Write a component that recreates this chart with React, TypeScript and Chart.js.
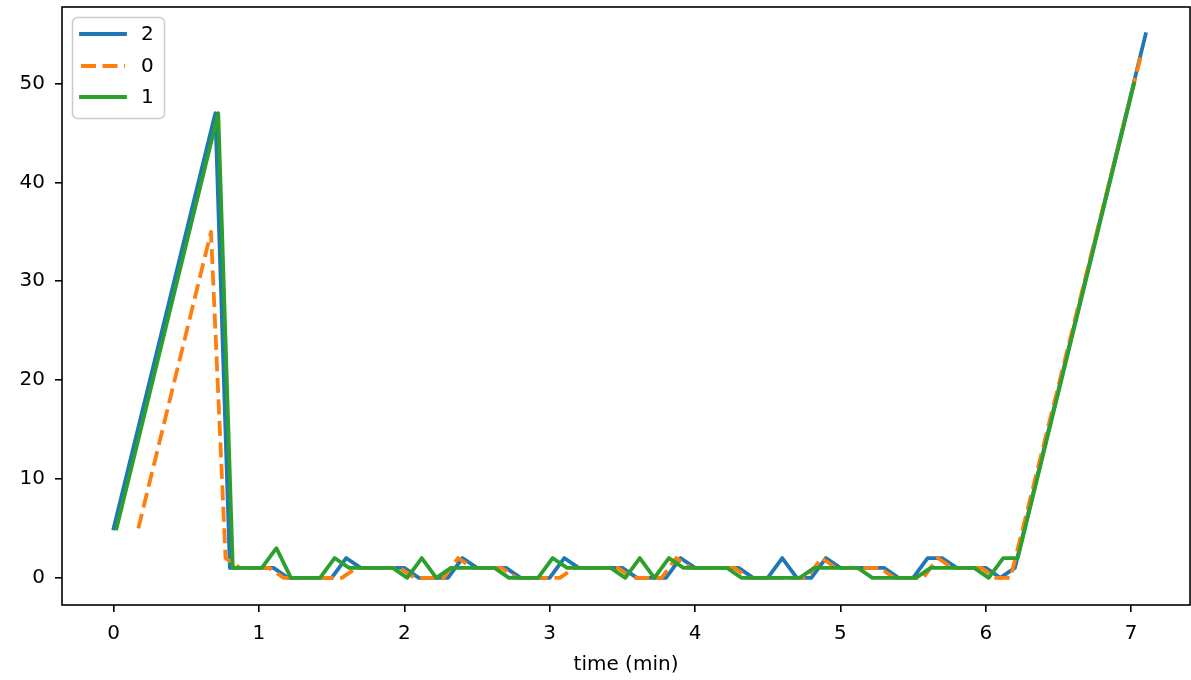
import React, { useEffect, useRef } from "react";
import { Chart, registerables } from "chart.js";

Chart.register(...registerables);

const seriesLabels = ["2", "0", "1"];
const seriesColors = ["#1f77b4", "#ff7f0e", "#2ca02c"];
const seriesDash: number[][] = [[], [15, 6.5], []];

const xTicks = [0, 1, 2, 3, 4, 5, 6, 7];
const yTicks = [0, 10, 20, 30, 40, 50];
const xLabel = "time (min)";

// series "2" (blue)
const timeS2 = [
  0, 0.7, 0.8, 0.9, 1.0, 1.1, 1.2, 1.3, 1.4, 1.5, 1.6, 1.7, 1.8, 1.9, 2.0, 2.1, 2.2, 2.3, 2.4, 2.5,
  2.6, 2.7, 2.8, 2.9, 3.0, 3.1, 3.2, 3.3, 3.4, 3.5, 3.6, 3.7, 3.8, 3.9, 4.0, 4.1, 4.2, 4.3, 4.4, 4.5,
  4.6, 4.7, 4.8, 4.9, 5.0, 5.1, 5.2, 5.3, 5.4, 5.5, 5.6, 5.7, 5.8, 5.9, 6.0, 6.1, 6.2, 7.1,
];
const valS2 = [
  5, 47, 1, 1, 1, 1, 0, 0, 0, 0, 2, 1, 1, 1, 1, 0, 0, 0, 2, 1,
  1, 1, 0, 0, 0, 2, 1, 1, 1, 1, 0, 0, 0, 2, 1, 1, 1, 1, 0, 0,
  2, 0, 0, 2, 1, 1, 1, 1, 0, 0, 2, 2, 1, 1, 1, 0, 1, 55,
];

// series "0" (orange, dashed)
const timeS0 = [
  0.17, 0.67, 0.77, 0.87, 0.97, 1.07, 1.17, 1.27, 1.37, 1.47, 1.57, 1.67, 1.77, 1.87, 1.97, 2.07, 2.17, 2.27, 2.37, 2.47,
  2.57, 2.67, 2.77, 2.87, 2.97, 3.07, 3.17, 3.27, 3.37, 3.47, 3.57, 3.67, 3.77, 3.87, 3.97, 4.07, 4.17, 4.27, 4.37, 4.47,
  4.57, 4.67, 4.77, 4.87, 4.97, 5.07, 5.17, 5.27, 5.37, 5.47, 5.57, 5.67, 5.77, 5.87, 5.97, 6.07, 6.17, 7.07,
];
const valS0 = [
  5, 35, 2, 1, 1, 1, 0, 0, 0, 0, 0, 1, 1, 1, 1, 0, 0, 0, 2, 1,
  1, 1, 0, 0, 0, 0, 1, 1, 1, 1, 0, 0, 0, 2, 1, 1, 1, 1, 0, 0,
  0, 0, 0, 2, 1, 1, 1, 1, 0, 0, 0, 2, 1, 1, 1, 0, 0, 53,
];

// series "1" (green)
const timeS1 = [
  0.02, 0.72, 0.82, 0.92, 1.02, 1.12, 1.22, 1.32, 1.42, 1.52, 1.62, 1.72, 1.82, 1.92, 2.02, 2.12, 2.22, 2.32, 2.42, 2.52,
  2.62, 2.72, 2.82, 2.92, 3.02, 3.12, 3.22, 3.32, 3.42, 3.52, 3.62, 3.72, 3.82, 3.92, 4.02, 4.12, 4.22, 4.32, 4.42, 4.52,
  4.62, 4.72, 4.82, 4.92, 5.02, 5.12, 5.22, 5.32, 5.42, 5.52, 5.62, 5.72, 5.82, 5.92, 6.02, 6.12, 6.22, 7.02,
];
const valS1 = [
  5, 47, 1, 1, 1, 3, 0, 0, 0, 2, 1, 1, 1, 1, 0, 2, 0, 1, 1, 1,
  1, 0, 0, 0, 2, 1, 1, 1, 1, 0, 2, 0, 2, 1, 1, 1, 1, 0, 0, 0,
  0, 0, 1, 1, 1, 1, 0, 0, 0, 0, 1, 1, 1, 1, 0, 2, 2, 50,
];

const seriesTimes = [timeS2, timeS0, timeS1];
const seriesValues = [valS2, valS0, valS1];

const FONT = "'DejaVu Sans', sans-serif";

const framePlugin = {
  id: "frame",
  afterDraw(chart: any) {
    const { ctx, chartArea } = chart;
    ctx.save();
    ctx.strokeStyle = "#000";
    ctx.lineWidth = 1.6;
    ctx.strokeRect(chartArea.left, chartArea.top, chartArea.right - chartArea.left, chartArea.bottom - chartArea.top);

    // legend (matplotlib style)
    const x0 = 72.5, y0 = 17.5, w = 92, h = 101;
    ctx.beginPath();
    (ctx as any).roundRect(x0, y0, w, h, 5);
    ctx.fillStyle = "rgba(255,255,255,0.8)";
    ctx.fill();
    ctx.strokeStyle = "#cccccc";
    ctx.lineWidth = 1.6;
    ctx.stroke();
    const rows = [34, 66, 97];
    chart.data.datasets.forEach((ds: any, i: number) => {
      ctx.beginPath();
      ctx.setLineDash(ds.borderDash || []);
      ctx.lineCap = ds.borderDash && ds.borderDash.length ? "butt" : "square";
      ctx.strokeStyle = ds.borderColor;
      ctx.lineWidth = ds.borderWidth;
      ctx.moveTo(81, rows[i]);
      ctx.lineTo(125, rows[i]);
      ctx.stroke();
      ctx.setLineDash([]);
      ctx.fillStyle = "#000";
      ctx.font = `20px ${FONT}`;
      ctx.textBaseline = "middle";
      ctx.textAlign = "left";
      ctx.fillText(ds.label, 141, rows[i] + 1);
    });
    ctx.restore();
  },
};

export default function App() {
  const ref = useRef<HTMLCanvasElement | null>(null);

  useEffect(() => {
    if (!ref.current) return;
    const datasets = seriesLabels.map((label, i) => ({
      label,
      data: seriesTimes[i].map((t, k) => ({ x: t, y: seriesValues[i][k] })),
      borderColor: seriesColors[i],
      backgroundColor: seriesColors[i],
      borderWidth: 3.8,
      borderDash: seriesDash[i],
      borderCapStyle: seriesDash[i].length ? "butt" : "square",
      borderJoinStyle: "round",
      pointRadius: 0,
      pointHoverRadius: 0,
      tension: 0,
      fill: false,
      order: 3 - i,
    }));

    const chart = new Chart(ref.current, {
      type: "line",
      data: { datasets } as any,
      options: {
        animation: false,
        responsive: false,
        maintainAspectRatio: false,
        layout: { padding: { top: 7, right: 1, left: 0, bottom: 0 } },
        plugins: {
          legend: { display: false },
          tooltip: { enabled: false },
        },
        scales: {
          x: {
            type: "linear",
            min: -0.355,
            max: 7.405,
            afterBuildTicks: (s: any) => {
              s.ticks = xTicks.map((v) => ({ value: v }));
            },
            afterFit: (s: any) => {
              s.height = 75;
              s.paddingLeft = 0;
              s.paddingRight = 0;
            },
            ticks: {
              color: "#000",
              font: { family: FONT, size: 20 },
              padding: 10,
              maxRotation: 0,
              autoSkip: false,
              callback: (v: any) => String(v),
            },
            grid: {
              drawOnChartArea: false,
              drawTicks: true,
              tickLength: 7,
              color: "#000",
              lineWidth: 1.6,
            },
            border: { display: false },
            title: {
              display: true,
              text: xLabel,
              color: "#000",
              font: { family: FONT, size: 20 },
              padding: { top: 0, bottom: 3 },
            },
          },
          y: {
            type: "linear",
            min: -2.75,
            max: 57.75,
            afterBuildTicks: (s: any) => {
              s.ticks = yTicks.map((v) => ({ value: v }));
            },
            afterFit: (s: any) => {
              s.width = 62;
              s.paddingTop = 0;
              s.paddingBottom = 0;
            },
            ticks: {
              color: "#000",
              font: { family: FONT, size: 20 },
              padding: 10,
              autoSkip: false,
              callback: (v: any) => String(v),
            },
            grid: {
              drawOnChartArea: false,
              drawTicks: true,
              tickLength: 7,
              color: "#000",
              lineWidth: 1.6,
            },
            border: { display: false },
          },
        },
      } as any,
      plugins: [framePlugin],
    });
    return () => chart.destroy();
  }, []);

  return (
    <div style={{ position: "absolute", left: 0, top: 0, width: 1191, height: 680, background: "#fff" }}>
      <canvas ref={ref} width={1191} height={680} style={{ width: 1191, height: 680, display: "block" }} />
    </div>
  );
}
